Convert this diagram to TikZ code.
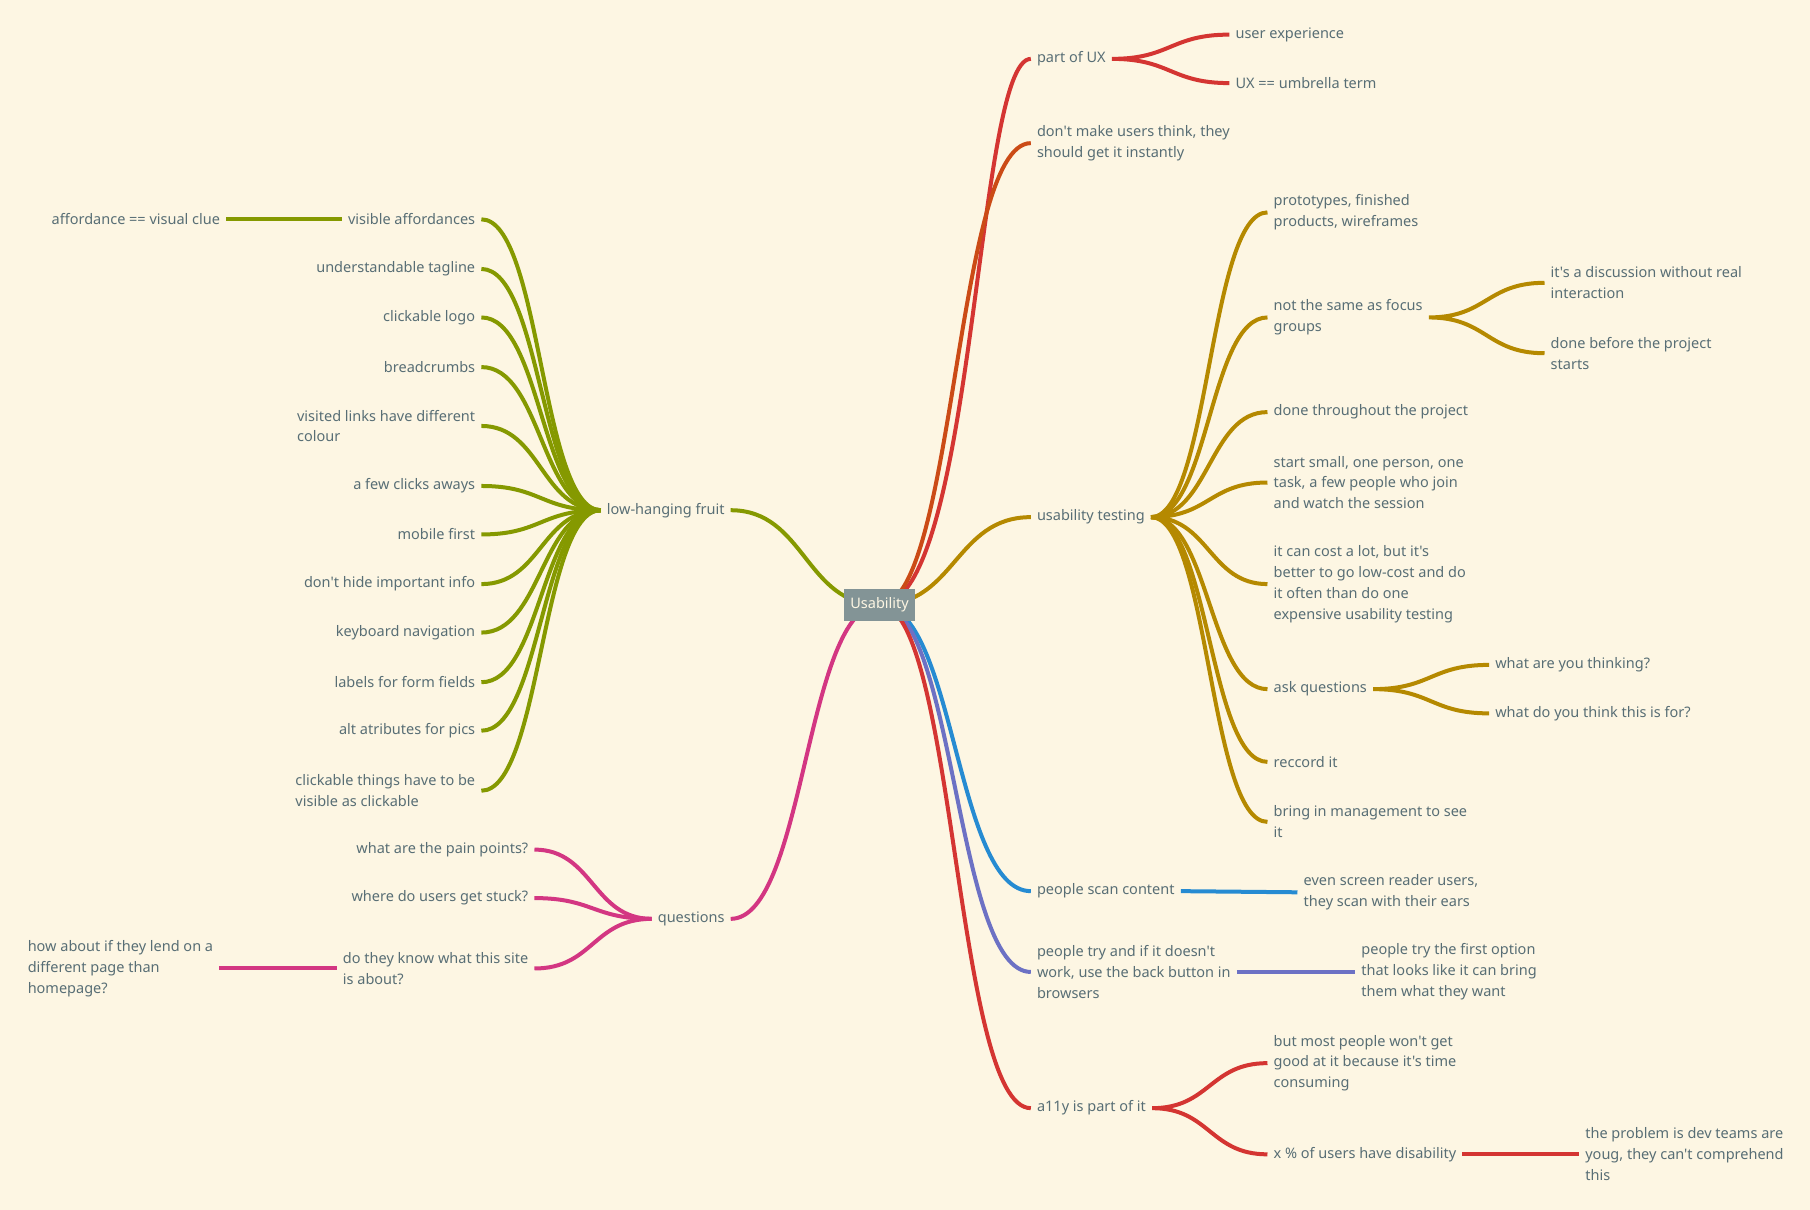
\documentclass[tikz,border=0pt]{standalone}
\usepackage{fontspec}
\setmainfont{Noto Sans}[Ligatures=TeXOff]
\usetikzlibrary{calc}

\definecolor{paper}{HTML}{FDF6E3}
\definecolor{ink}{HTML}{586E75}
\definecolor{boxgray}{HTML}{839496}
\definecolor{cred}{HTML}{D43532}
\definecolor{corange}{HTML}{CB4B16}
\definecolor{cyellow}{HTML}{B58900}
\definecolor{cgreen}{HTML}{859900}
\definecolor{cblue}{HTML}{268BD2}
\definecolor{cviolet}{HTML}{6C71C4}
\definecolor{cmagenta}{HTML}{D33682}

\tikzset{
  topic/.style={inner xsep=6pt, inner ysep=2pt, align=left, text=ink,
    font=\fontsize{14.5}{20.8}\selectfont},
  rt/.style={topic, anchor=west},
  lt/.style={topic, anchor=east},
  link/.style={line width=4pt,
    to path={let \p1=(\tikztostart), \p2=(\tikztotarget) in
      .. controls ({(\x1+\x2)/2},\y1) and ({(\x1+\x2)/2},\y2) .. (\tikztotarget)}},
  rootbox/.style={fill=boxgray, text=paper, inner xsep=6pt,
    minimum height=32pt, font=\fontsize{14.5}{20.8}\selectfont},
}

\begin{document}
\begin{tikzpicture}[x=1.1543pt, y=-1.1543pt]
  \fill[paper] (0,0) rectangle (1568,1048);
  \useasboundingbox (0,0) rectangle (1568,1048);

  \coordinate (root) at (762,524);

  % right side
  \node[rt] (ux)    at (893,51)  {part of UX};
  \node[rt] (uxa)   at (1065,30) {user experience};
  \node[rt] (uxb)   at (1065,72) {UX == umbrella term};
  \node[rt] (think) at (893,124) {don't make users think, they\\should get it instantly};

  \node[rt] (ut)    at (893,448) {usability testing};
  \node[rt] (proto) at (1098,184) {prototypes, finished\\products, wireframes};
  \node[rt] (focus) at (1098,275) {not the same as focus\\groups};
  \node[rt] (disc)  at (1338,245) {it's a discussion without real\\interaction};
  \node[rt] (before) at (1338,306) {done before the project\\starts};
  \node[rt] (thru)  at (1098,357) {done throughout the project};
  \node[rt] (small) at (1098,418) {start small, one person, one\\task, a few people who join\\and watch the session};
  \node[rt] (cost)  at (1098,506) {it can cost a lot, but it's\\better to go low-cost and do\\it often than do one\\expensive usability testing};
  \node[rt] (ask)   at (1098,597) {ask questions};
  \node[rt] (aska)  at (1290,576) {what are you thinking?};
  \node[rt] (askb)  at (1290,618) {what do you think this is for?};
  \node[rt] (rec)   at (1098,660) {reccord it};
  \node[rt] (mgmt)  at (1098,712) {bring in management to see\\it};

  \node[rt] (scan)  at (893,772) {people scan content};
  \node[rt] (scana) at (1124,773) {even screen reader users,\\they scan with their ears};
  \node[rt] (back)  at (893,842) {people try and if it doesn't\\work, use the back button in\\browsers};
  \node[rt] (backa) at (1174,842) {people try the first option\\that looks like it can bring\\them what they want};

  \node[rt] (ally)  at (893,960) {a11y is part of it};
  \node[rt] (allya) at (1098,921) {but most people won't get\\good at it because it's time\\consuming};
  \node[rt] (allyb) at (1098,1000) {x \% of users have disability};
  \node[rt] (dev)   at (1368,1000) {the problem is dev teams are\\youg, they can't comprehend\\this};

  % left side
  \node[lt] (low)   at (633,442) {low-hanging fruit};
  \node[lt] (vis)   at (417,190) {visible affordances};
  \node[lt] (clue)  at (196,190) {affordance == visual clue};
  \node[lt] (tag)   at (417,233) {understandable tagline};
  \node[lt] (logo)  at (417,275) {clickable logo};
  \node[lt] (crumb) at (417,318) {breadcrumbs};
  \node[lt] (link)  at (417,369) {visited links have different\\colour};
  \node[lt] (few)   at (417,421) {a few clicks aways};
  \node[lt] (mob)   at (417,463) {mobile first};
  \node[lt] (hide)  at (417,506) {don't hide important info};
  \node[lt] (keyb)  at (417,548) {keyboard navigation};
  \node[lt] (form)  at (417,591) {labels for form fields};
  \node[lt] (alt)   at (417,633) {alt atributes for pics};
  \node[lt] (click) at (417,685) {clickable things have to be\\visible as clickable};

  \node[lt] (q)     at (633,796) {questions};
  \node[lt] (pain)  at (463,736) {what are the pain points?};
  \node[lt] (stuck) at (463,778) {where do users get stuck?};
  \node[lt] (site)  at (463,839) {do they know what this site\\is about?};
  \node[lt] (lend)  at (190,839) {how about if they lend on a\\different page than\\homepage?};

  % connectors
  \draw[link, cred] (root) to (ux);
  \draw[link, cred] (ux.east) to (uxa.west) (ux.east) to (uxb.west);
  \draw[link, corange] (root) to (think.west);
  \draw[link, cyellow] (root) to (ut.west);
  \foreach \c in {proto,focus,thru,small,cost,ask,rec,mgmt}
    \draw[link, cyellow] (ut.east) to (\c.west);
  \draw[link, cyellow] (focus.east) to (disc.west) (focus.east) to (before.west);
  \draw[link, cyellow] (ask.east) to (aska.west) (ask.east) to (askb.west);
  \draw[link, cblue] (root) to (scan.west);
  \draw[link, cblue] (scan.east) to (scana.west);
  \draw[link, cviolet] (root) to (back.west);
  \draw[link, cviolet] (back.east) to (backa.west);
  \draw[link, cred] (root) to (ally.west);
  \draw[link, cred] (ally.east) to (allya.west) (ally.east) to (allyb.west);
  \draw[link, cred] (allyb.east) to (dev.west);

  \draw[link, cgreen] (root) to (low.east);
  \foreach \c in {vis,tag,logo,crumb,link,few,mob,hide,keyb,form,alt,click}
    \draw[link, cgreen] (low.west) to (\c.east);
  \draw[link, cgreen] (vis.west) to (clue.east);
  \draw[link, cmagenta] (root) to (q.east);
  \foreach \c in {pain,stuck,site}
    \draw[link, cmagenta] (q.west) to (\c.east);
  \draw[link, cmagenta] (site.west) to (lend.east);

  \node[rootbox] (usab) at (root) {Usability};
\end{tikzpicture}
\end{document}
